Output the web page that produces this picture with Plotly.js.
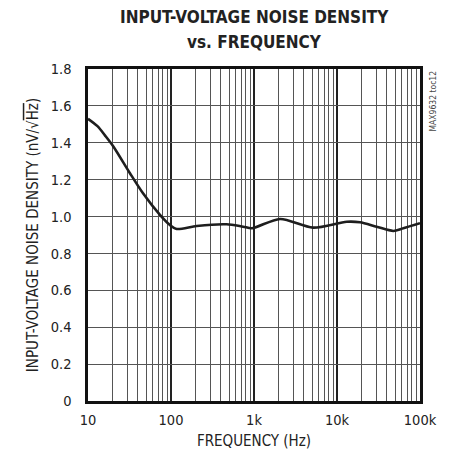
<!DOCTYPE html>
<html><head><meta charset="utf-8">
<script src="https://cdn.plot.ly/plotly-3.0.1.min.js"></script>
<style>html,body{margin:0;padding:0;background:#fff}</style>
</head><body><div id="c" style="width:449px;height:464px"></div>
<script>
const freq = [10, 13, 16, 20.2, 32, 46, 73.6, 97, 117, 204, 468, 740, 950, 2057, 5140, 13100, 18900, 30000, 47700, 63000, 100000];
const noise = [1.53, 1.49, 1.44, 1.38, 1.235, 1.126, 1.009, 0.954, 0.933, 0.949, 0.958, 0.945, 0.937, 0.987, 0.94, 0.972, 0.969, 0.945, 0.922, 0.937, 0.964];
const xTickVals = [10, 100, 1000, 10000, 100000];
const xTickText = ['10', '100', '1k', '10k', '100k'];
const yTickVals = [0, 0.2, 0.4, 0.6, 0.8, 1.0, 1.2, 1.4, 1.6, 1.8];
const yTickText = ['0', '0.2', '0.4', '0.6', '0.8', '1.0', '1.2', '1.4', '1.6', '1.8'];
const titleLines = ['INPUT-VOLTAGE NOISE DENSITY', 'vs. FREQUENCY'];

const minorVals = [];
for (let d = 10; d < 100000; d *= 10) for (let k = 2; k <= 9; k++) minorVals.push(d * k);

const FAM = 'DejaVu Sans Condensed, sans-serif';
const tickFont = {family: FAM, size: 14.5, color: '#222'};
Plotly.newPlot('c', [{
  x: freq, y: noise, type: 'scatter', mode: 'lines',
  line: {color: '#1e1e1e', width: 2.6, shape: 'spline', smoothing: 0.8},
  hoverinfo: 'skip'
}], {
  width: 449, height: 464,
  margin: {l: 88, r: 29, t: 69, b: 63},
  paper_bgcolor: '#fff', plot_bgcolor: '#fff',
  showlegend: false,
  xaxis: {type: 'log', range: [1, 5], tickvals: xTickVals, ticktext: xTickText,
    showgrid: true, gridcolor: '#222', gridwidth: 1.3,
    minor: {tickvals: minorVals, showgrid: true, gridcolor: '#555', gridwidth: 1, ticks: ''},
    ticks: '', tickfont: tickFont, showline: true, linecolor: '#111', linewidth: 2.6, mirror: true,
    zeroline: false, ticklabelstandoff: 4,
    title: {text: 'FREQUENCY (Hz)', font: {family: FAM, size: 15, color: '#222'}, standoff: 9}},
  yaxis: {range: [0, 1.8], tickvals: yTickVals, ticktext: yTickText,
    showgrid: true, gridcolor: '#555', gridwidth: 1,
    ticks: '', tickfont: tickFont, showline: true, linecolor: '#111', linewidth: 2.6, mirror: true,
    zeroline: false, ticklabelstandoff: 11,
    title: {text: 'INPUT-VOLTAGE NOISE DENSITY (nV/√<span style="text-decoration:overline">Hz</span>)', font: {family: FAM, size: 15, color: '#222'}, standoff: 9}},
  annotations: [
    {text: '<b>' + titleLines[0] + '</b>', xref: 'paper', yref: 'paper', x: 0.5, y: 1, xanchor: 'center', yanchor: 'bottom', yshift: 40, showarrow: false,
      font: {family: FAM, size: 17, color: '#222'}},
    {text: '<b>' + titleLines[1] + '</b>', xref: 'paper', yref: 'paper', x: 0.5, y: 1, xanchor: 'center', yanchor: 'bottom', yshift: 15, showarrow: false,
      font: {family: FAM, size: 17, color: '#222'}},
    {text: 'MAX9632 toc12', xref: 'paper', yref: 'paper', x: 1.0, y: 1.0,
    xanchor: 'left', yanchor: 'top', xshift: 5, textangle: -90, showarrow: false,
    font: {family: FAM, size: 8.5, color: '#444'}}]
}, {displayModeBar: false, staticPlot: true});
</script></body></html>
